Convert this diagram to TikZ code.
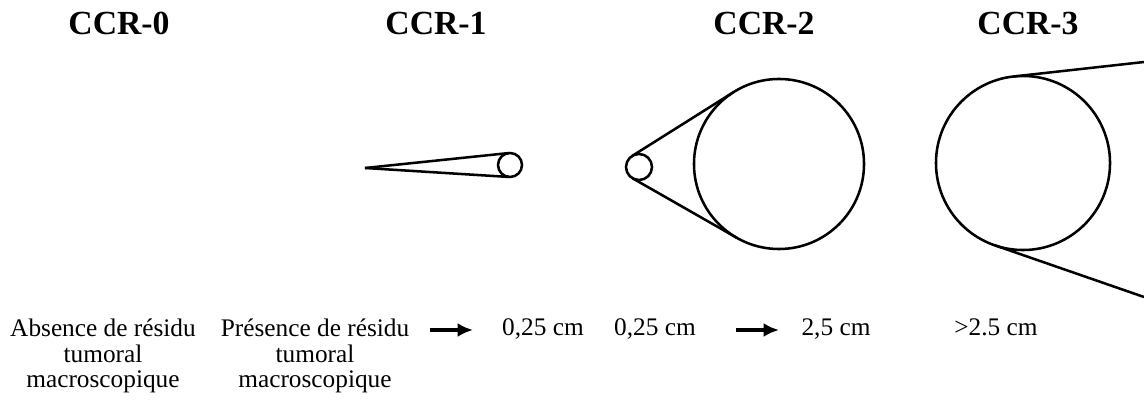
\documentclass[tikz,border=0pt]{standalone}
\usepackage{fontspec}
\setmainfont{Liberation Serif}
\usetikzlibrary{arrows.meta, calc, positioning}

\begin{document}
\begin{tikzpicture}[
    x=0.025cm, y=-0.025cm,
    every node/.style={font=\fontsize{18}{18.4}\selectfont},
    ccrtitle/.style={font=\fontsize{24}{26}\selectfont\bfseries, anchor=base, inner sep=0pt},
    desc/.style={align=center, anchor=base, inner sep=0pt},
    lesion/.style={circle, draw, line width=1.8pt, inner sep=0pt, outer sep=0pt},
    edge/.style={line width=1.8pt},
    pointer/.style={-{Latex[length=11pt, width=10pt]}, line width=2.6pt},
]
\useasboundingbox (0,0) rectangle (1144,405);

% Titles
\node[ccrtitle] (t0) at (119,35) {CCR-0};
\node[ccrtitle] (t1) at (436,35) {CCR-1};
\node[ccrtitle] (t2) at (764,35) {CCR-2};
\node[ccrtitle] (t3) at (1028,35) {CCR-3};

% CCR-1 : small nodule with its tail
\coordinate (tip1) at (365,168);
\node[lesion, minimum size=0.6cm] (r1) at (510,165) {};
\draw[edge] (tip1) -- (tangent cs:node=r1, point={(tip1)}, solution=1);
\draw[edge] (tip1) -- (tangent cs:node=r1, point={(tip1)}, solution=2);

% CCR-2 : small and large nodule, common tangents
\node[lesion, minimum size=0.65cm] (s2) at (639,167) {};
\node[lesion, minimum size=4.25cm] (b2) at (779,164) {};
\coordinate (e2) at ($(s2)!-0.1806!(b2)$);
\draw[edge] (tangent cs:node=s2, point={(e2)}, solution=1)
    -- (tangent cs:node=b2, point={(e2)}, solution=1);
\draw[edge] (tangent cs:node=s2, point={(e2)}, solution=2)
    -- (tangent cs:node=b2, point={(e2)}, solution=2);

% CCR-3 : large nodule, tail leaving the frame
\node[lesion, minimum size=4.35cm] (r3) at (1023,163) {};
\coordinate (up3) at (1144,62);
\coordinate (lo3) at (1144,297);
\draw[edge] (up3) -- (tangent cs:node=r3, point={(up3)}, solution=1);
\draw[edge] (lo3) -- (tangent cs:node=r3, point={(lo3)}, solution=2);

% Sizes (multi-line nodes sit on their last baseline)
\node[desc] (abs) at (103,388) {Absence de résidu\\tumoral\\macroscopique};
\node[desc] (pres) at (315,388) {Présence de résidu\\tumoral\\macroscopique};
\node[desc] (d1) at (543,336) {0,25 cm};
\node[desc] (d2) at (655,336) {0,25 cm};
\node[desc] (d3) at (836,336) {2,5 cm};
\node[desc] (d4) at (996,336) {>2.5 cm};

\coordinate (a1s) at (430,330);
\coordinate (a1e) at (473,330);
\coordinate (a2s) at (736,330);
\coordinate (a2e) at (779,330);
\draw[pointer] (a1s) -- (a1e);
\draw[pointer] (a2s) -- (a2e);

\end{tikzpicture}
\end{document}
